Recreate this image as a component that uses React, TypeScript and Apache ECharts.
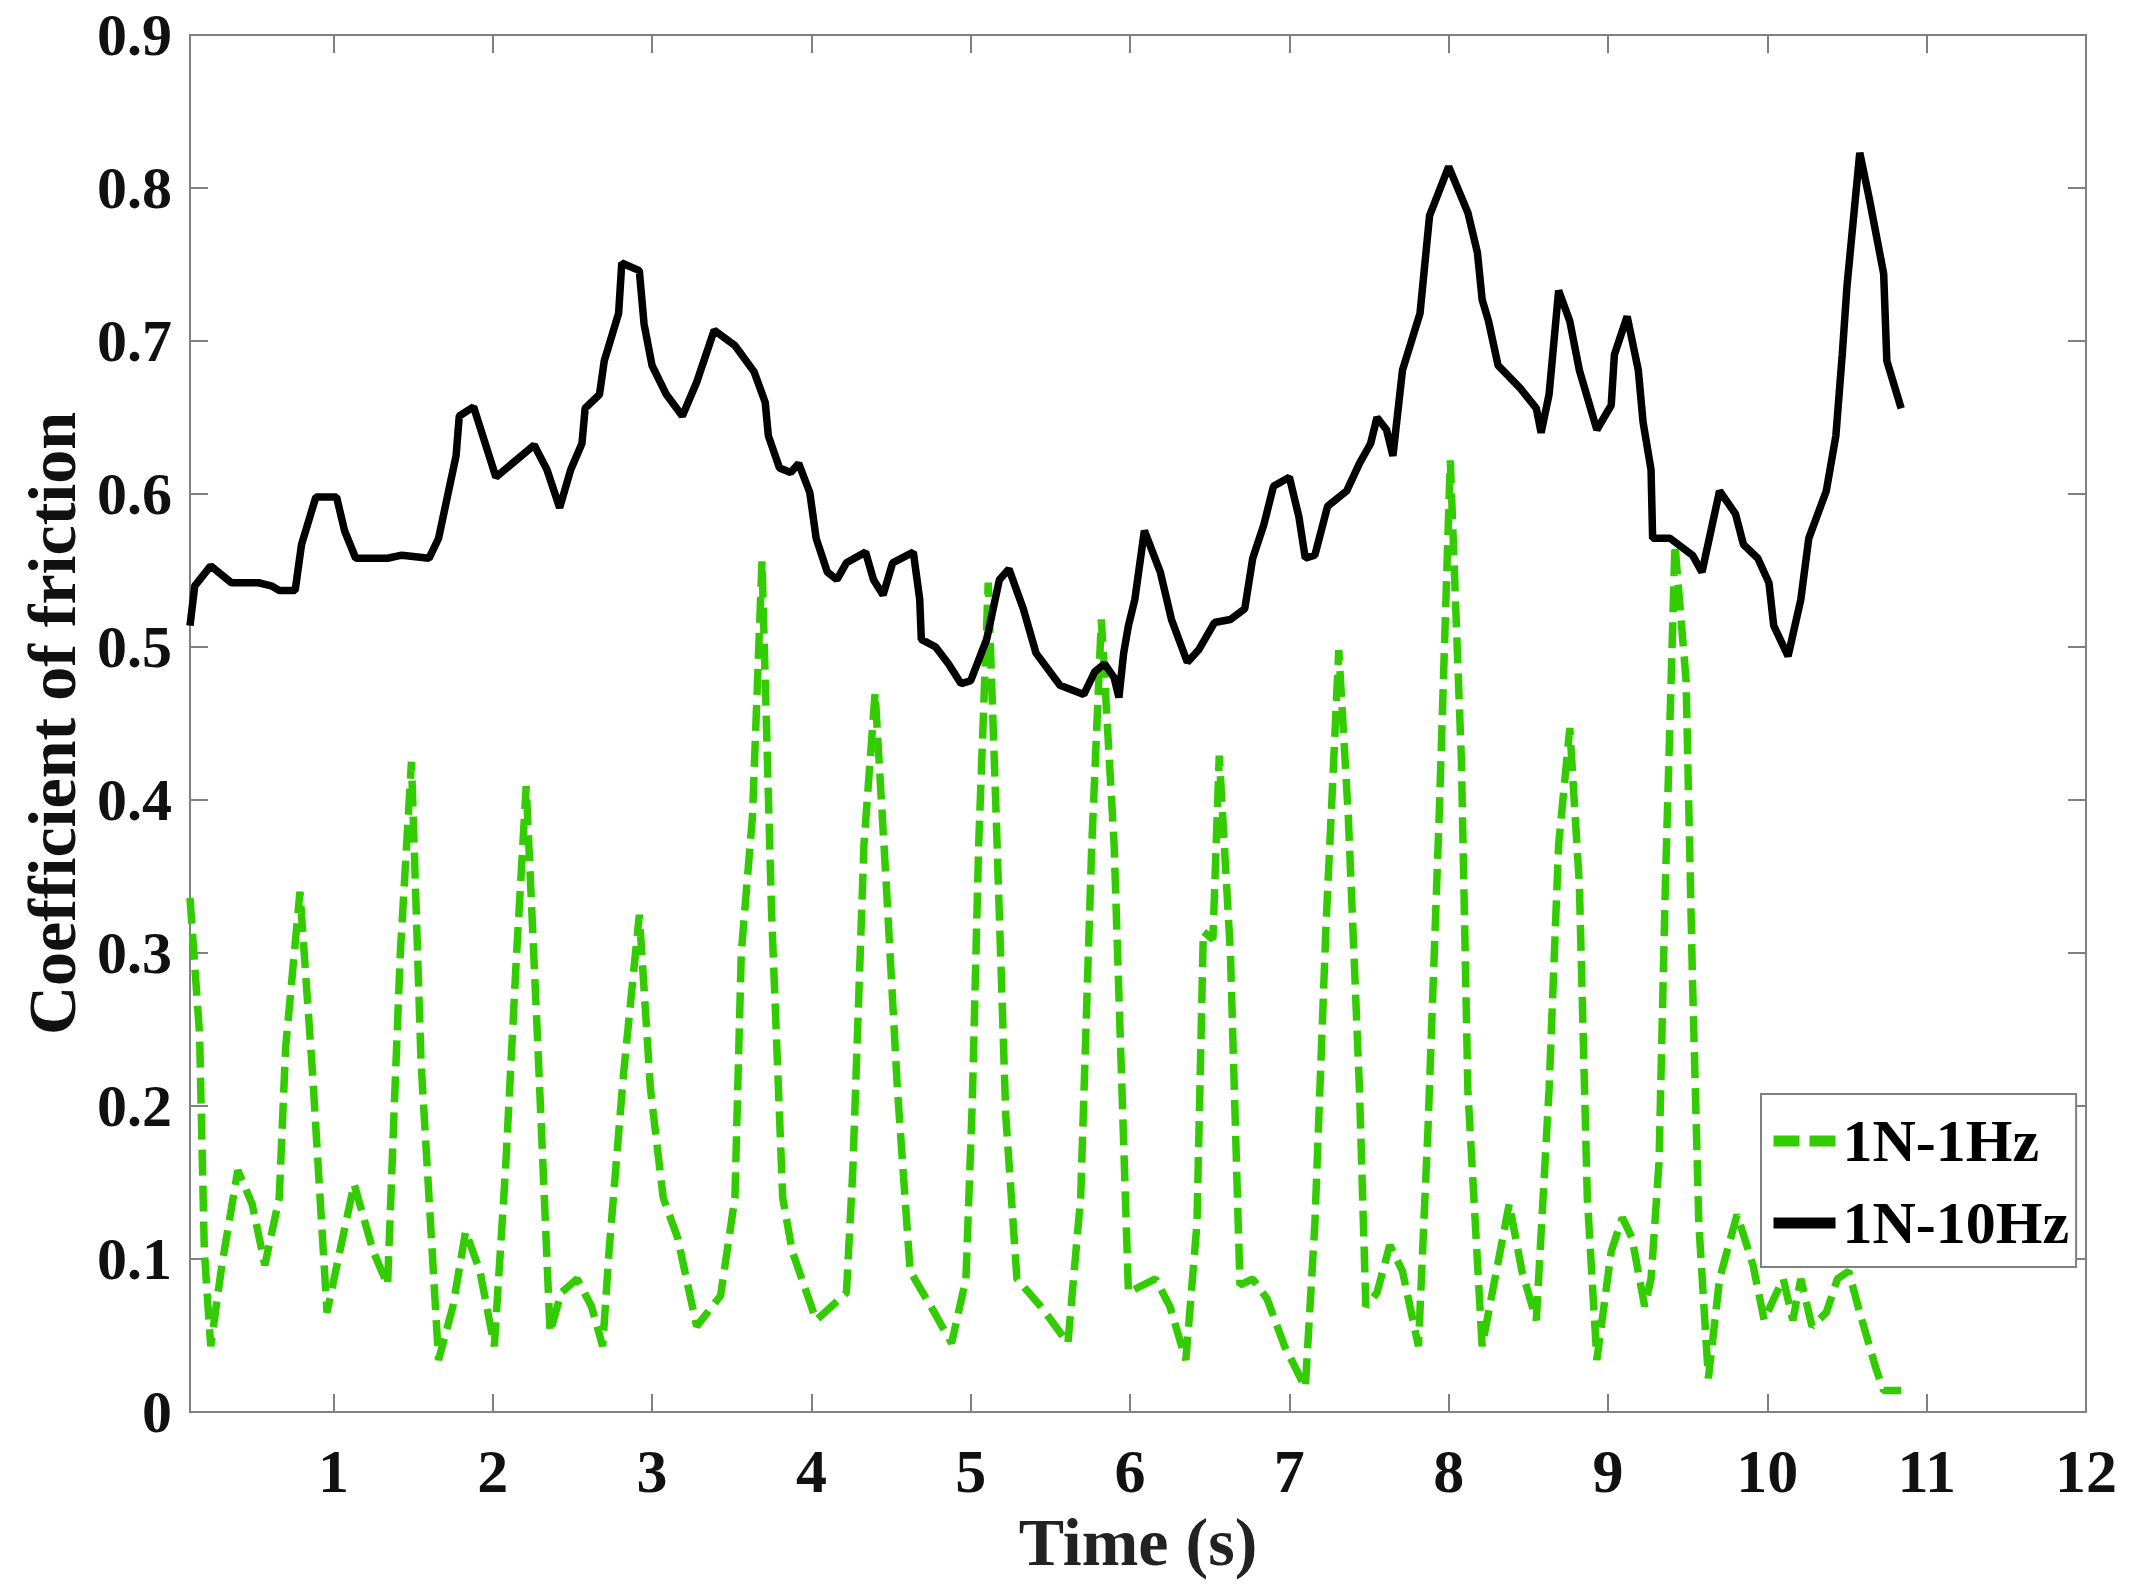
import React, { useEffect, useRef } from "react";
import * as echarts from "echarts";

// ---- data ----
const tBlack = [
  0.10, 0.13, 0.23, 0.36, 0.53, 0.61, 0.66, 0.76, 0.80, 0.89, 1.02, 1.07, 1.14, 1.34, 1.43, 1.60,
  1.66, 1.77, 1.79, 1.88, 2.02, 2.26, 2.34, 2.42, 2.49, 2.56, 2.58, 2.67, 2.70, 2.79, 2.81, 2.92,
  2.95, 3.00, 3.09, 3.19, 3.28, 3.39, 3.52, 3.64, 3.71, 3.73, 3.80, 3.87, 3.92, 3.99, 4.03, 4.10,
  4.16, 4.22, 4.34, 4.39, 4.45, 4.51, 4.64, 4.68, 4.69, 4.78, 4.86, 4.94, 5.00, 5.10, 5.18, 5.24,
  5.33, 5.41, 5.56, 5.71, 5.78, 5.84, 5.90, 5.93, 5.96, 5.99, 6.03, 6.09, 6.19, 6.26, 6.36, 6.43,
  6.53, 6.63, 6.72, 6.77, 6.84, 6.90, 7.00, 7.06, 7.10, 7.16, 7.24, 7.36, 7.44, 7.51, 7.55, 7.61,
  7.65, 7.71, 7.82, 7.88, 8.00, 8.12, 8.18, 8.21, 8.25, 8.31, 8.45, 8.55, 8.58, 8.63, 8.69, 8.76,
  8.82, 8.93, 9.02, 9.04, 9.12, 9.19, 9.22, 9.27, 9.28, 9.39, 9.53, 9.59, 9.70, 9.80, 9.85, 9.94,
  10.01, 10.04, 10.13, 10.21, 10.26, 10.37, 10.43, 10.47, 10.50, 10.58, 10.64, 10.73, 10.75, 10.84,
];
const vBlack = [
  0.514, 0.540, 0.553, 0.542, 0.542, 0.540, 0.537, 0.537, 0.567, 0.598, 0.598, 0.576, 0.558, 0.558, 0.560, 0.558,
  0.571, 0.625, 0.651, 0.657, 0.611, 0.632, 0.616, 0.591, 0.616, 0.633, 0.656, 0.665, 0.687, 0.718, 0.751, 0.746,
  0.711, 0.684, 0.665, 0.651, 0.673, 0.707, 0.697, 0.680, 0.660, 0.638, 0.617, 0.614, 0.620, 0.601, 0.571, 0.549,
  0.544, 0.555, 0.562, 0.544, 0.534, 0.555, 0.562, 0.531, 0.505, 0.500, 0.489, 0.476, 0.478, 0.505, 0.544, 0.551,
  0.525, 0.496, 0.475, 0.469, 0.484, 0.489, 0.480, 0.467, 0.496, 0.514, 0.531, 0.576, 0.549, 0.518, 0.490, 0.498,
  0.516, 0.518, 0.525, 0.558, 0.580, 0.605, 0.611, 0.585, 0.558, 0.560, 0.592, 0.602, 0.620, 0.633, 0.650, 0.642,
  0.625, 0.681, 0.718, 0.782, 0.814, 0.784, 0.758, 0.727, 0.713, 0.684, 0.669, 0.656, 0.640, 0.665, 0.733, 0.713,
  0.681, 0.642, 0.658, 0.691, 0.716, 0.681, 0.647, 0.616, 0.571, 0.571, 0.560, 0.549, 0.602, 0.587, 0.567, 0.558,
  0.542, 0.514, 0.494, 0.531, 0.571, 0.602, 0.638, 0.691, 0.736, 0.823, 0.793, 0.744, 0.687, 0.656,
];
const tGreen = [
  0.10, 0.16, 0.19, 0.23, 0.30, 0.40, 0.49, 0.57, 0.66, 0.70, 0.79, 0.87, 0.96, 1.04, 1.13, 1.25,
  1.34, 1.38, 1.42, 1.49, 1.55, 1.66, 1.75, 1.83, 1.92, 2.01, 2.08, 2.15, 2.21, 2.28, 2.36, 2.43,
  2.53, 2.62, 2.69, 2.73, 2.82, 2.92, 2.99, 3.07, 3.16, 3.28, 3.43, 3.52, 3.56, 3.63, 3.69, 3.75,
  3.82, 3.88, 4.03, 4.22, 4.26, 4.33, 4.40, 4.47, 4.54, 4.62, 4.75, 4.88, 4.97, 5.01, 5.05, 5.11,
  5.16, 5.22, 5.29, 5.44, 5.61, 5.69, 5.76, 5.82, 5.90, 5.99, 6.08, 6.16, 6.25, 6.35, 6.42, 6.46,
  6.52, 6.56, 6.63, 6.69, 6.77, 6.86, 6.97, 7.10, 7.16, 7.23, 7.27, 7.31, 7.37, 7.44, 7.48, 7.55,
  7.63, 7.71, 7.81, 7.87, 7.94, 8.01, 8.08, 8.12, 8.21, 8.29, 8.38, 8.46, 8.55, 8.63, 8.69, 8.76,
  8.82, 8.87, 8.93, 9.02, 9.09, 9.15, 9.23, 9.27, 9.32, 9.36, 9.42, 9.49, 9.53, 9.57, 9.63, 9.70,
  9.81, 9.91, 9.98, 10.04, 10.10, 10.16, 10.21, 10.28, 10.37, 10.44, 10.51, 10.58, 10.68, 10.73, 10.84,
];
const vGreen = [
  0.336, 0.247, 0.105, 0.043, 0.096, 0.158, 0.136, 0.096, 0.140, 0.238, 0.340, 0.220, 0.065, 0.105, 0.149, 0.105,
  0.083, 0.194, 0.300, 0.425, 0.229, 0.034, 0.069, 0.118, 0.092, 0.043, 0.158, 0.300, 0.409, 0.247, 0.052, 0.078,
  0.087, 0.069, 0.043, 0.105, 0.220, 0.325, 0.211, 0.140, 0.114, 0.056, 0.076, 0.140, 0.300, 0.389, 0.556, 0.327,
  0.140, 0.105, 0.060, 0.078, 0.158, 0.371, 0.470, 0.345, 0.211, 0.092, 0.069, 0.045, 0.087, 0.203, 0.371, 0.542,
  0.389, 0.194, 0.087, 0.069, 0.045, 0.140, 0.371, 0.518, 0.371, 0.078, 0.083, 0.087, 0.069, 0.034, 0.123, 0.314,
  0.309, 0.429, 0.300, 0.083, 0.087, 0.074, 0.043, 0.016, 0.123, 0.318, 0.407, 0.498, 0.389, 0.211, 0.069, 0.078,
  0.109, 0.092, 0.043, 0.185, 0.389, 0.622, 0.425, 0.211, 0.043, 0.087, 0.136, 0.092, 0.060, 0.211, 0.371, 0.447,
  0.345, 0.140, 0.034, 0.105, 0.127, 0.114, 0.069, 0.087, 0.163, 0.345, 0.567, 0.478, 0.283, 0.123, 0.022, 0.087,
  0.129, 0.096, 0.060, 0.074, 0.087, 0.060, 0.087, 0.056, 0.065, 0.087, 0.092, 0.065, 0.029, 0.014, 0.014,
];
const xTickValues = [1, 2, 3, 4, 5, 6, 7, 8, 9, 10, 11];
const xLabelValues = [1, 2, 3, 4, 5, 6, 7, 8, 9, 10, 11, 12];
const yTickLabels = ["0", "0.1", "0.2", "0.3", "0.4", "0.5", "0.6", "0.7", "0.8", "0.9"];
const seriesNames = ["1N-1Hz", "1N-10Hz"];

const FONT = '"Liberation Serif", "Times New Roman", serif';
const AXIS_GRAY = "#808080";
const GREEN = "#33cc00";

export default function App() {
  const ref = useRef<HTMLDivElement>(null);

  useEffect(() => {
    document.body.style.margin = "0";
    if (!ref.current) return;
    const chart = echarts.init(ref.current, undefined, { renderer: "svg" });

    const blackData = tBlack.map((t, i) => [t, vBlack[i]]);
    const greenData = tGreen.map((t, i) => [t, vGreen[i]]);

    const axisLine = { show: true, onZero: false, lineStyle: { color: AXIS_GRAY, width: 2 } };
    const tick = { inside: true, length: 18, lineStyle: { color: AXIS_GRAY, width: 2 } };

    chart.setOption({
      animation: false,
      backgroundColor: "#ffffff",
      grid: { left: 190, right: 46, top: 35, bottom: 184, containLabel: false },
      legend: {
        orient: "vertical",
        left: 1761,
        top: 1094,
        padding: [17, 7, 14, 7],
        itemGap: 22,
        itemWidth: 62,
        itemHeight: 14,
        backgroundColor: "#ffffff",
        borderColor: AXIS_GRAY,
        borderWidth: 2,
        itemStyle: { opacity: 0 },
        lineStyle: { width: 11 },
        textStyle: {
          fontFamily: FONT,
          fontWeight: "bold",
          fontSize: 60,
          color: "#000",
          padding: [0, 0, 0, 2],
        },
        data: seriesNames,
      },
      xAxis: [
        {
          type: "value",
          min: 0.1,
          max: 12,
          position: "bottom",
          name: "Time (s)",
          nameLocation: "middle",
          nameGap: 96,
          nameTextStyle: { fontFamily: FONT, fontWeight: "bold", fontSize: 68, color: "#222" },
          axisLine,
          axisTick: { ...tick, customValues: xTickValues },
          axisLabel: {
            customValues: xLabelValues,
            margin: 28,
            fontFamily: FONT,
            fontWeight: "bold",
            fontSize: 62,
            color: "#111",
            formatter: (v: number) => String(v),
          },
          splitLine: { show: false },
        },
        {
          type: "value",
          min: 0.1,
          max: 12,
          position: "top",
          axisLine,
          axisTick: { ...tick, customValues: xTickValues },
          axisLabel: { show: false },
          splitLine: { show: false },
        },
      ],
      yAxis: [
        {
          type: "value",
          min: 0,
          max: 0.9,
          interval: 0.1,
          position: "left",
          name: "Coefficient of friction",
          nameLocation: "middle",
          nameGap: 104,
          nameTextStyle: { fontFamily: FONT, fontWeight: "bold", fontSize: 68, color: "#111" },
          axisLine,
          axisTick: tick,
          axisLabel: {
            margin: 18,
            fontFamily: FONT,
            fontWeight: "bold",
            fontSize: 60,
            color: "#111",
            formatter: (v: number) => yTickLabels[Math.round(v * 10)] ?? String(v),
          },
          splitLine: { show: false },
        },
        {
          type: "value",
          min: 0,
          max: 0.9,
          interval: 0.1,
          position: "right",
          axisLine,
          axisTick: tick,
          axisLabel: { show: false },
          splitLine: { show: false },
        },
      ],
      series: [
        {
          name: seriesNames[0],
          type: "line",
          data: greenData,
          showSymbol: false,
          symbol: "none",
          lineStyle: { color: GREEN, width: 7.5, type: [26, 10] },
          itemStyle: { color: GREEN },
          z: 2,
        },
        {
          name: seriesNames[1],
          type: "line",
          data: blackData,
          showSymbol: false,
          symbol: "none",
          lineStyle: { color: "#000", width: 7.5, type: "solid" },
          itemStyle: { color: "#000" },
          z: 3,
        },
      ],
    });

    return () => chart.dispose();
  }, []);

  return <div ref={ref} style={{ width: 2132, height: 1596 }} />;
}
